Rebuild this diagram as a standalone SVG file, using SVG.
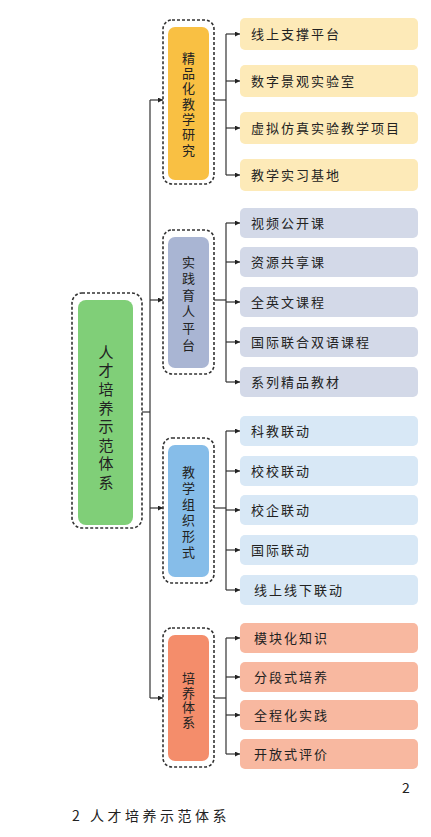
<svg xmlns="http://www.w3.org/2000/svg" width="431" height="837" viewBox="0 0 431 837">
<defs>
<marker id="arr" viewBox="0 0 6 6" refX="6" refY="3" markerWidth="5" markerHeight="5" orient="auto" markerUnits="userSpaceOnUse">
<path d="M0,0 L6,3 L0,6 z" fill="#222"/>
</marker>
</defs>
<style>
.dash{fill:none;stroke:#333;stroke-width:1.6;stroke-dasharray:3 2}
.ln{fill:none;stroke:#333;stroke-width:1.2}
.t{font-family:"Noto Sans CJK SC","Noto Sans",sans-serif;fill:#222}
.v{writing-mode:vertical-rl;text-anchor:middle}
.ct{font-size:13px}
.kt{font-size:13px;letter-spacing:2px}
</style>
<rect width="431" height="837" fill="#fff"/>
<g id="connectors">
<line class="ln" x1="150" y1="100" x2="150" y2="698"/>
<line class="ln" x1="142" y1="412" x2="150" y2="412"/>
<line class="ln" x1="150" y1="100" x2="163" y2="100" marker-end="url(#arr)"/>
<line class="ln" x1="150" y1="300" x2="163" y2="300" marker-end="url(#arr)"/>
<line class="ln" x1="150" y1="508" x2="163" y2="508" marker-end="url(#arr)"/>
<line class="ln" x1="150" y1="698" x2="163" y2="698" marker-end="url(#arr)"/>
<line class="ln" x1="214" y1="100" x2="226" y2="100"/>
<line class="ln" x1="226" y1="34" x2="226" y2="175"/>
<line class="ln" x1="226" y1="34" x2="240" y2="34" marker-end="url(#arr)"/>
<line class="ln" x1="226" y1="81" x2="240" y2="81" marker-end="url(#arr)"/>
<line class="ln" x1="226" y1="128" x2="240" y2="128" marker-end="url(#arr)"/>
<line class="ln" x1="226" y1="175" x2="240" y2="175" marker-end="url(#arr)"/>
<line class="ln" x1="214" y1="300" x2="226" y2="300"/>
<line class="ln" x1="226" y1="223" x2="226" y2="382"/>
<line class="ln" x1="226" y1="223" x2="240" y2="223" marker-end="url(#arr)"/>
<line class="ln" x1="226" y1="262" x2="240" y2="262" marker-end="url(#arr)"/>
<line class="ln" x1="226" y1="302" x2="240" y2="302" marker-end="url(#arr)"/>
<line class="ln" x1="226" y1="342" x2="240" y2="342" marker-end="url(#arr)"/>
<line class="ln" x1="226" y1="382" x2="240" y2="382" marker-end="url(#arr)"/>
<line class="ln" x1="214" y1="508" x2="226" y2="508"/>
<line class="ln" x1="226" y1="431" x2="226" y2="590"/>
<line class="ln" x1="226" y1="431" x2="240" y2="431" marker-end="url(#arr)"/>
<line class="ln" x1="226" y1="471" x2="240" y2="471" marker-end="url(#arr)"/>
<line class="ln" x1="226" y1="510" x2="240" y2="510" marker-end="url(#arr)"/>
<line class="ln" x1="226" y1="550" x2="240" y2="550" marker-end="url(#arr)"/>
<line class="ln" x1="226" y1="590" x2="240" y2="590" marker-end="url(#arr)"/>
<line class="ln" x1="214" y1="698" x2="226" y2="698"/>
<line class="ln" x1="226" y1="638" x2="226" y2="754"/>
<line class="ln" x1="226" y1="638" x2="240" y2="638" marker-end="url(#arr)"/>
<line class="ln" x1="226" y1="677" x2="240" y2="677" marker-end="url(#arr)"/>
<line class="ln" x1="226" y1="715" x2="240" y2="715" marker-end="url(#arr)"/>
<line class="ln" x1="226" y1="754" x2="240" y2="754" marker-end="url(#arr)"/>
</g>
<g id="root">
<rect class="dash" x="72" y="293" width="70" height="235" rx="10"/>
<rect x="78" y="300" width="55" height="225" rx="8" fill="#80cf78"/>
<text class="t v" x="106" y="419" font-size="15" letter-spacing="3.6">人才培养示范体系</text>
</g>
<g id="cat1">
<rect class="dash" x="163" y="20" width="51" height="164" rx="9"/>
<rect x="168" y="27" width="41" height="153" rx="7" fill="#f9c043"/>
<text class="t v ct" x="188.5" y="105" letter-spacing="2.3">精品化教学研究</text>
</g>
<g id="cat2">
<rect class="dash" x="163" y="230" width="51" height="144" rx="9"/>
<rect x="168" y="237" width="41" height="131" rx="7" fill="#a9b5d3"/>
<text class="t v ct" x="188.5" y="305" letter-spacing="3.6">实践育人平台</text>
</g>
<g id="cat3">
<rect class="dash" x="163" y="438" width="51" height="145" rx="9"/>
<rect x="168" y="445" width="41" height="132" rx="7" fill="#86bde9"/>
<text class="t v ct" x="188.5" y="513.5" letter-spacing="3">教学组织形式</text>
</g>
<g id="cat4">
<rect class="dash" x="163" y="628" width="51" height="139" rx="9"/>
<rect x="168" y="635" width="41" height="126" rx="7" fill="#f48d6b"/>
<text class="t v ct" x="188.5" y="701" letter-spacing="1.7">培养体系</text>
</g>
<g id="c1a"><rect x="240" y="18" width="178" height="32" rx="5" fill="#fdeab8"/><text class="t kt" x="251" y="39">线上支撑平台</text></g>
<g id="c1b"><rect x="240" y="65" width="178" height="32" rx="5" fill="#fdeab8"/><text class="t kt" x="251" y="86">数字景观实验室</text></g>
<g id="c1c"><rect x="240" y="112" width="178" height="32" rx="5" fill="#fdeab8"/><text class="t kt" x="251" y="133">虚拟仿真实验教学项目</text></g>
<g id="c1d"><rect x="240" y="159" width="178" height="32" rx="5" fill="#fdeab8"/><text class="t kt" x="251" y="180">教学实习基地</text></g>
<g id="c2a"><rect x="240" y="208" width="178" height="30" rx="5" fill="#d3d9e8"/><text class="t kt" x="251" y="228">视频公开课</text></g>
<g id="c2b"><rect x="240" y="247" width="178" height="30" rx="5" fill="#d3d9e8"/><text class="t kt" x="251" y="267">资源共享课</text></g>
<g id="c2c"><rect x="240" y="287" width="178" height="30" rx="5" fill="#d3d9e8"/><text class="t kt" x="251" y="307">全英文课程</text></g>
<g id="c2d"><rect x="240" y="327" width="178" height="30" rx="5" fill="#d3d9e8"/><text class="t kt" x="251" y="347">国际联合双语课程</text></g>
<g id="c2e"><rect x="240" y="367" width="178" height="30" rx="5" fill="#d3d9e8"/><text class="t kt" x="251" y="387">系列精品教材</text></g>
<g id="c3a"><rect x="240" y="416" width="178" height="30" rx="5" fill="#d8e8f6"/><text class="t kt" x="251" y="436">科教联动</text></g>
<g id="c3b"><rect x="240" y="456" width="178" height="30" rx="5" fill="#d8e8f6"/><text class="t kt" x="251" y="476">校校联动</text></g>
<g id="c3c"><rect x="240" y="495" width="178" height="30" rx="5" fill="#d8e8f6"/><text class="t kt" x="251" y="515">校企联动</text></g>
<g id="c3d"><rect x="240" y="535" width="178" height="30" rx="5" fill="#d8e8f6"/><text class="t kt" x="251" y="555">国际联动</text></g>
<g id="c3e"><rect x="240" y="575" width="178" height="30" rx="5" fill="#d8e8f6"/><text class="t kt" x="254" y="595">线上线下联动</text></g>
<g id="c4a"><rect x="240" y="623" width="178" height="30" rx="5" fill="#f8b8a0"/><text class="t kt" x="254" y="643">模块化知识</text></g>
<g id="c4b"><rect x="240" y="662" width="178" height="30" rx="5" fill="#f8b8a0"/><text class="t kt" x="254" y="682">分段式培养</text></g>
<g id="c4c"><rect x="240" y="700" width="178" height="30" rx="5" fill="#f8b8a0"/><text class="t kt" x="254" y="720">全程化实践</text></g>
<g id="c4d"><rect x="240" y="739" width="178" height="30" rx="5" fill="#f8b8a0"/><text class="t kt" x="254" y="759">开放式评价</text></g>
<text class="t" x="406" y="793" font-size="14" text-anchor="middle" fill="#333">2</text>
<text class="t" x="72" y="821" font-size="14" fill="#666" letter-spacing="3.5">2 人才培养示范体系</text>
</svg>
